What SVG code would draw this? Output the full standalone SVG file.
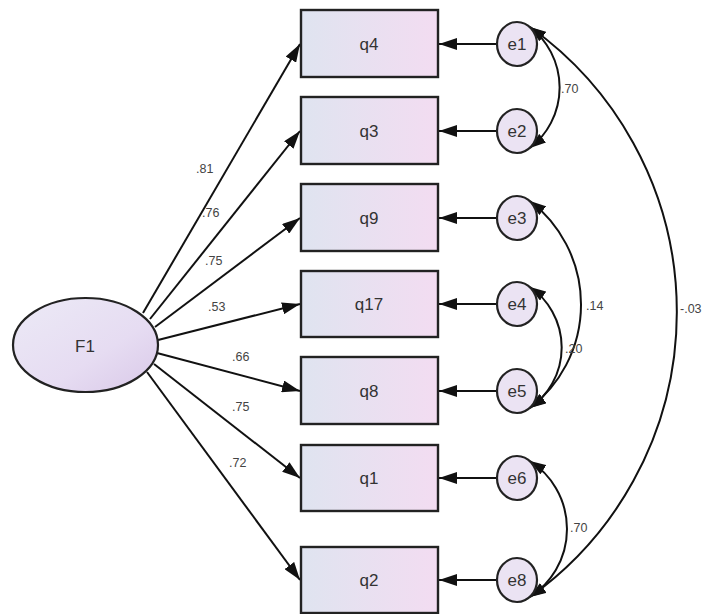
<svg xmlns="http://www.w3.org/2000/svg" width="709" height="614" viewBox="0 0 709 614">
<defs>
<linearGradient id="boxg" x1="0" y1="0" x2="1" y2="0">
<stop offset="0" stop-color="#dfe4f0"/>
<stop offset="1" stop-color="#f3dcf1"/>
</linearGradient>
<linearGradient id="f1g" x1="0" y1="0" x2="1" y2="1">
<stop offset="0" stop-color="#eceaf6"/>
<stop offset="0.6" stop-color="#e6dcf2"/>
<stop offset="1" stop-color="#d9c8e8"/>
</linearGradient>
<marker id="arr" viewBox="0 0 18 12" refX="18" refY="6" markerWidth="18" markerHeight="12" markerUnits="userSpaceOnUse" orient="auto-start-reverse">
<path d="M0,0 L18,6 L0,12 z" fill="#111"/>
</marker>
<marker id="arc" viewBox="0 0 16 11" refX="16" refY="5.5" markerWidth="16" markerHeight="11" markerUnits="userSpaceOnUse" orient="auto-start-reverse">
<path d="M0,0 L16,5.5 L0,11 z" fill="#111"/>
</marker>
</defs>
<style>
.box{fill:url(#boxg);stroke:#222;stroke-width:2.4}
.err{fill:#ebe3f3;stroke:#222;stroke-width:2.2}
.lat{fill:url(#f1g);stroke:#222;stroke-width:2.2}
.lbl{font-family:"Liberation Sans",Arial,sans-serif;font-size:17px;fill:#333;text-anchor:middle;dominant-baseline:central}
.num{font-family:"Liberation Sans",Arial,sans-serif;font-size:12.5px;fill:#444}
.ln{stroke:#111;stroke-width:2;fill:none;marker-end:url(#arr)}
.cv{stroke:#111;stroke-width:2;fill:none;marker-start:url(#arc);marker-end:url(#arc)}
</style>
<rect width="709" height="614" fill="#ffffff"/>

<g id="connectors">
<line class="ln" x1="143" y1="313" x2="300" y2="44"/>
<line class="ln" x1="150" y1="319" x2="300" y2="131"/>
<line class="ln" x1="155" y1="327" x2="300" y2="218"/>
<line class="ln" x1="158" y1="340" x2="300" y2="304"/>
<line class="ln" x1="157" y1="353" x2="300" y2="391"/>
<line class="ln" x1="154" y1="364" x2="300" y2="478"/>
<line class="ln" x1="147" y1="372" x2="300" y2="580"/>

<line class="ln" x1="497" y1="44" x2="439" y2="44"/>
<line class="ln" x1="497" y1="131" x2="439" y2="131"/>
<line class="ln" x1="497" y1="218" x2="439" y2="218"/>
<line class="ln" x1="497" y1="304" x2="439" y2="304"/>
<line class="ln" x1="497" y1="391" x2="439" y2="391"/>
<line class="ln" x1="497" y1="478" x2="439" y2="478"/>
<line class="ln" x1="497" y1="580" x2="439" y2="580"/>

<path class="cv" d="M530,27 A76.6,76.6 0 0 1 530,148"/>
<path class="cv" d="M530,201 A130.5,130.5 0 0 1 530,408"/>
<path class="cv" d="M530,287 A73.6,73.6 0 0 1 530,408"/>
<path class="cv" d="M530,461 A81,81 0 0 1 530,597"/>
<path class="cv" d="M530,27 A350,350 0 0 1 530,597"/>

<text class="num" x="196" y="173">.81</text>
<text class="num" x="202" y="217">.76</text>
<text class="num" x="205" y="265">.75</text>
<text class="num" x="208" y="311">.53</text>
<text class="num" x="232" y="361">.66</text>
<text class="num" x="232" y="411">.75</text>
<text class="num" x="229" y="467">.72</text>
<text class="num" x="561" y="93">.70</text>
<text class="num" x="586" y="310">.14</text>
<text class="num" x="565" y="353">.20</text>
<text class="num" x="680" y="313">-.03</text>
<text class="num" x="570" y="532">.70</text>
</g>

<g id="F1"><ellipse class="lat" cx="85.5" cy="345" rx="72.5" ry="47"/><text class="lbl" x="85" y="346">F1</text></g>

<g id="q4"><rect class="box" x="301" y="10" width="137" height="67"/><text class="lbl" x="369" y="44">q4</text></g>
<g id="q3"><rect class="box" x="301" y="97" width="137" height="67"/><text class="lbl" x="369" y="131">q3</text></g>
<g id="q9"><rect class="box" x="301" y="184" width="137" height="67"/><text class="lbl" x="369" y="218">q9</text></g>
<g id="q17"><rect class="box" x="301" y="271" width="137" height="66"/><text class="lbl" x="369" y="304">q17</text></g>
<g id="q8"><rect class="box" x="301" y="357" width="137" height="67"/><text class="lbl" x="369" y="391">q8</text></g>
<g id="q1"><rect class="box" x="301" y="445" width="137" height="66"/><text class="lbl" x="369" y="478">q1</text></g>
<g id="q2"><rect class="box" x="301" y="547" width="137" height="66"/><text class="lbl" x="369" y="580">q2</text></g>

<g id="e1"><ellipse class="err" cx="517" cy="44" rx="20" ry="22"/><text class="lbl" x="517" y="44">e1</text></g>
<g id="e2"><ellipse class="err" cx="517" cy="131" rx="20" ry="22"/><text class="lbl" x="517" y="131">e2</text></g>
<g id="e3"><ellipse class="err" cx="517" cy="218" rx="20" ry="22"/><text class="lbl" x="517" y="218">e3</text></g>
<g id="e4"><ellipse class="err" cx="517" cy="304" rx="20" ry="22"/><text class="lbl" x="517" y="304">e4</text></g>
<g id="e5"><ellipse class="err" cx="517" cy="391" rx="20" ry="22"/><text class="lbl" x="517" y="391">e5</text></g>
<g id="e6"><ellipse class="err" cx="517" cy="478" rx="20" ry="22"/><text class="lbl" x="517" y="478">e6</text></g>
<g id="e8"><ellipse class="err" cx="517" cy="580" rx="20" ry="22"/><text class="lbl" x="517" y="580">e8</text></g>
</svg>
